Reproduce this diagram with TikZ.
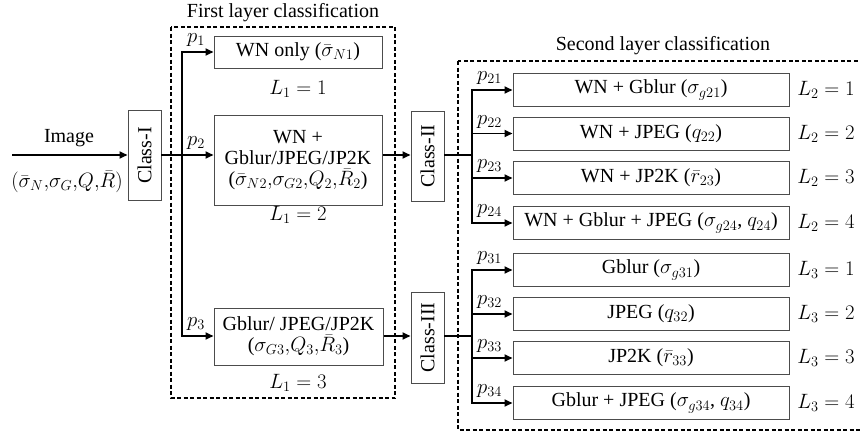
\documentclass[tikz,border=0pt]{standalone}
\usepackage{fontspec}
\setmainfont{Liberation Serif}
\usetikzlibrary{arrows.meta,calc}
\begin{document}
\begin{tikzpicture}[x=1pt,y=-1pt,
  every node/.style={font=\fontsize{20}{21}\selectfont, inner sep=1pt},
  box/.style={draw=black!70, line width=1pt, inner sep=0pt, align=center},
  arr/.style={line width=1.8pt, -{Triangle[length=8pt,width=7pt]}},
  ln/.style={line width=1.8pt, line cap=rect},
  grp/.style={draw, line width=1.5pt, dash pattern=on 4pt off 2.5pt},
  lab/.style={anchor=south west, inner sep=0pt}]
\useasboundingbox (0,0) rectangle (860,434);
% titles
\node (t1) at (283,13) {First layer classification};
\node (t2) at (663,46) {Second layer classification};
\draw[grp] (171,27) rectangle (395,398);
\draw[grp] (458,61) rectangle (864,430);
% input
\node (imgt) at (69,138) {Image};
\node (imgp) at (67,182) {$(\bar{\sigma}_N{,}\sigma_G{,}Q{,}\bar{R})$};
\node[box, minimum width=33pt, minimum height=90pt] (c1) at (144.5,155.5) {\rotatebox{90}{Class-I}};
\coordinate (in) at (12,155);
\draw[arr] (in) -- (in -| c1.west);
% first layer
\node[box, minimum width=168pt, minimum height=32pt] (b1) at (298,52) {WN only ($\bar{\sigma}_{N1}$)};
\node[box, minimum width=168pt, minimum height=90pt] (b2) at (298,160) {WN +\\Gblur/JPEG/JP2K\\($\bar{\sigma}_{N2}{,}\sigma_{G2}{,}Q_2{,}\bar{R}_2$)};
\node[box, minimum width=169pt, minimum height=57pt] (b3) at (298.5,336.5) {Gblur/ JPEG/JP2K\\($\sigma_{G3}{,}Q_3{,}\bar{R}_3$)};
\node (l11) at (298,89) {$L_1 = 1$};
\node (l12) at (298,215) {$L_1 = 2$};
\node (l13) at (298,383) {$L_1 = 3$};
\coordinate (ta) at (182,52);
\coordinate (tb) at (182,155);
\coordinate (tc) at (182,336);
\draw[ln] (c1.east |- tb) -- (tb);
\draw[ln] (ta) -- (tc);
\draw[arr] (ta) -- (b1.west);
\draw[arr] (tb) -- (tb -| b2.west);
\draw[arr] (tc) -- (tc -| b3.west);
\node[lab] (p1) at (187,47) {$p_1$};
\node[lab] (p2) at (187,150) {$p_2$};
\node[lab] (p3) at (187,331) {$p_3$};
% classes II, III
\node[box, minimum width=33pt, minimum height=90pt] (c2) at (427.5,156) {\rotatebox{90}{Class-II}};
\node[box, minimum width=33pt, minimum height=91pt] (c3) at (427.5,337.5) {\rotatebox{90}{Class-III}};
\draw[arr] (b2.east |- tb) -- (c2.west |- tb);
\draw[arr] (b3.east |- tc) -- (c3.west |- tc);
% second layer boxes
\tikzset{sbox/.style={box, minimum width=276pt, minimum height=33pt}}
\node[sbox] (s1) at (651,90) {WN + Gblur ($\sigma_{g21}$)};
\node[sbox] (s2) at (651,133.5) {WN + JPEG ($q_{22}$)};
\node[sbox] (s3) at (651,178) {WN + JP2K ($\bar{r}_{23}$)};
\node[sbox] (s4) at (651,223) {WN + Gblur + JPEG ($\sigma_{g24}$, $q_{24}$)};
\node[sbox] (s5) at (651,270) {Gblur ($\sigma_{g31}$)};
\node[sbox] (s6) at (651,314) {JPEG ($q_{32}$)};
\node[sbox] (s7) at (651,358) {JP2K ($\bar{r}_{33}$)};
\node[sbox] (s8) at (651,403) {Gblur + JPEG ($\sigma_{g34}$, $q_{34}$)};
\node (m1) at (826,90) {$L_2 = 1$};
\node (m2) at (826,133.5) {$L_2 = 2$};
\node (m3) at (826,178) {$L_2 = 3$};
\node (m4) at (826,223) {$L_2 = 4$};
\node (m5) at (826,270) {$L_3 = 1$};
\node (m6) at (826,314) {$L_3 = 2$};
\node (m7) at (826,358) {$L_3 = 3$};
\node (m8) at (826,403) {$L_3 = 4$};
\coordinate (tt) at (472,0);
\draw[ln] (c2.east |- tb) -- (tt |- tb);
\draw[ln] (c3.east |- tc) -- (tt |- tc);
\draw[ln] (tt |- s1.west) -- (tt |- s4.west);
\draw[ln] (tt |- s5.west) -- (tt |- s8.west);
\foreach \i/\lbl in {1/21,2/22,3/23,4/24,5/31,6/32,7/33,8/34}{
  \draw[arr] (tt |- s\i.west) -- (s\i.west);
  \node[lab] (q\i) at ($(tt |- s\i.west)+(5,-5)$) {$p_{\lbl}$};
}
\end{tikzpicture}
\end{document}
